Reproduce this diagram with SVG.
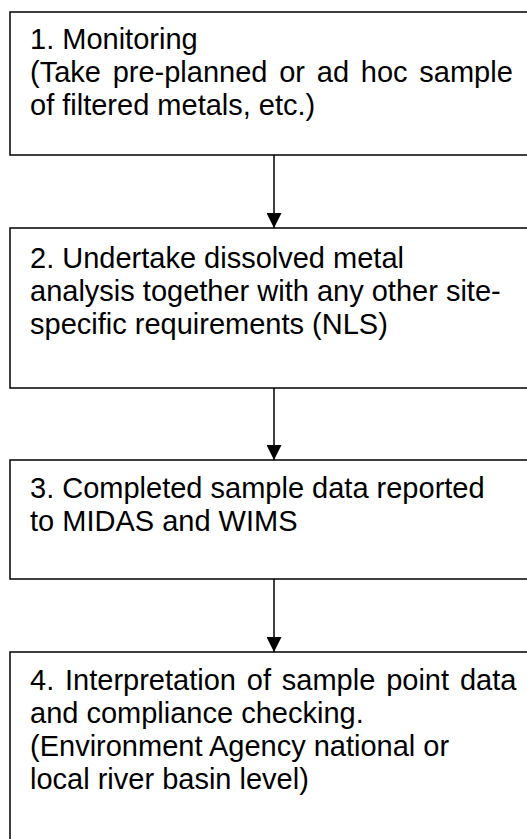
<svg xmlns="http://www.w3.org/2000/svg" width="527" height="839" viewBox="0 0 527 839">
<defs>
<style>
.box{fill:#fff;stroke:#000;stroke-width:1.5}
.t{font-family:"Liberation Sans",Arial,sans-serif;font-size:29px;fill:#000}
.c{stroke:#000;stroke-width:1.5;fill:none}
</style>
<marker id="ah" markerWidth="15" markerHeight="15" refX="15" refY="7.5" orient="auto" markerUnits="userSpaceOnUse">
<path d="M0,0 L15,7.5 L0,15 Z" fill="#000"/>
</marker>
</defs>
<rect width="527" height="839" fill="#fff"/>
<g id="node1">
<rect class="box" x="10" y="12" width="530" height="143"/>
<text class="t" x="30" y="49">1. Monitoring</text>
<text class="t" x="30" y="82" style="word-spacing:3.7px">(Take pre-planned or ad hoc sample</text>
<text class="t" x="30" y="115">of filtered metals, etc.)</text>
</g>
<g id="node2">
<rect class="box" x="10" y="228" width="530" height="160"/>
<text class="t" x="30" y="268">2. Undertake dissolved metal</text>
<text class="t" x="30" y="301">analysis together with any other site-</text>
<text class="t" x="30" y="334">specific requirements (NLS)</text>
</g>
<g id="node3">
<rect class="box" x="10" y="460" width="530" height="119"/>
<text class="t" x="30" y="498">3. Completed sample data reported</text>
<text class="t" x="30" y="531">to MIDAS and WIMS</text>
</g>
<g id="node4">
<rect class="box" x="10" y="652" width="530" height="200"/>
<text class="t" x="30" y="690" style="word-spacing:2.8px">4. Interpretation of sample point data</text>
<text class="t" x="30" y="723">and compliance checking.</text>
<text class="t" x="30" y="756">(Environment Agency national or</text>
<text class="t" x="30" y="789">local river basin level)</text>
</g>
<g id="connectors">
<line class="c" x1="274" y1="155" x2="274" y2="228" marker-end="url(#ah)"/>
<line class="c" x1="274" y1="388" x2="274" y2="460" marker-end="url(#ah)"/>
<line class="c" x1="274" y1="579" x2="274" y2="652" marker-end="url(#ah)"/>
</g>
</svg>
